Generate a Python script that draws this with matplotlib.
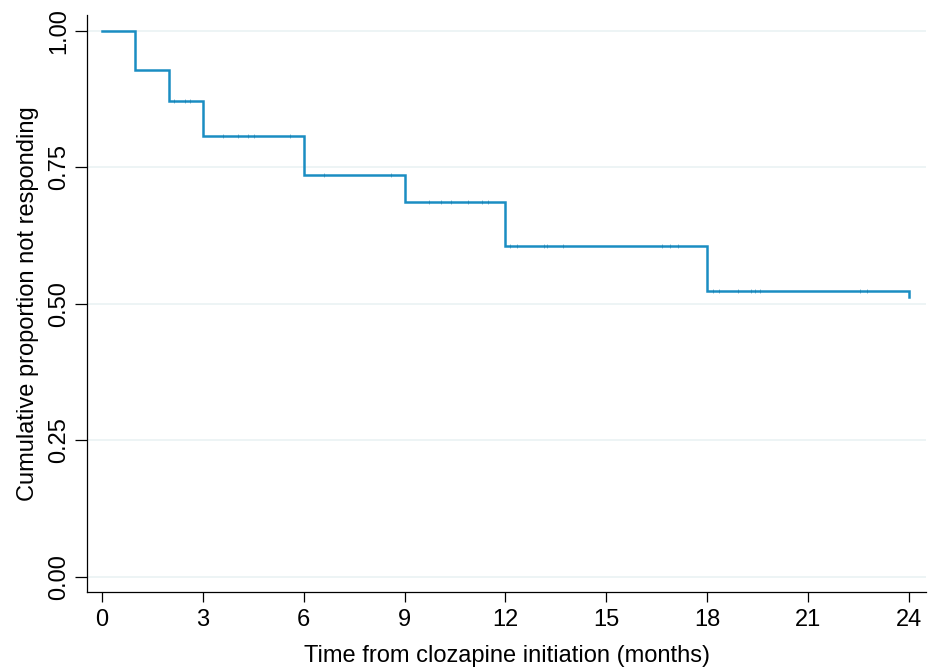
import matplotlib
matplotlib.use("Agg")
import matplotlib.pyplot as plt
import numpy as np

plt.rcParams["font.family"] = ["Liberation Sans", "DejaVu Sans"]

# Kaplan-Meier step data (time in months, survival after the step)
step_times = [0, 1, 2, 3, 6, 9, 12, 18, 24]
step_surv = [1.000, 0.928, 0.871, 0.808, 0.736, 0.686, 0.605, 0.523, 0.512]

# censored observations (time, level)
cens_times = [2.14, 2.47, 2.61,
              3.6, 4.04, 4.34, 4.52, 5.61,
              6.6, 8.6,
              9.74, 10.09, 10.37, 10.9, 11.31, 11.47,
              12.15, 12.35, 13.14, 13.24, 13.70, 16.65, 16.88, 17.12,
              18.16, 18.36, 18.90, 19.30, 19.42, 19.57, 22.54, 22.74]

x_ticks = [0, 3, 6, 9, 12, 15, 18, 21, 24]
y_ticks = [0.00, 0.25, 0.50, 0.75, 1.00]

line_color = "#1a8dc2"
grid_color = "#eaf2f3"

W, H = 930, 668
fig = plt.figure(figsize=(W / 100, H / 100), dpi=100)
ax = fig.add_axes([87 / W, 1 - 592 / H, (926 - 87) / W, (592 - 15) / H])

# build step path
xs = [step_times[0]]
ys = [step_surv[0]]
for t, s in zip(step_times[1:], step_surv[1:]):
    xs += [t, t]
    ys += [ys[-1], s]
ax.plot(xs, ys, color=line_color, lw=1.8, solid_joinstyle="miter", zorder=3)

# censor marks sit on the level in effect at that time
def level_at(t):
    idx = np.searchsorted(step_times, t, side="right") - 1
    return step_surv[idx]

cens_levels = [level_at(t) for t in cens_times]
ax.plot(cens_times, cens_levels, ls="none", marker="|", ms=2.4, mew=0.5,
        color="#1478a8", alpha=0.7, zorder=4)

for y in y_ticks:
    ax.axhline(y, color=grid_color, lw=1.2, zorder=1)

ax.set_xlim(-0.437, 24.5)
ax.set_ylim(-0.0274, 1.0287)
ax.set_xticks(x_ticks)
ax.set_yticks(y_ticks)
ax.set_yticklabels([f"{v:.2f}" for v in y_ticks], rotation=90, va="center")
ax.tick_params(axis="x", length=7, width=0.9, labelsize=17, pad=5, color="black")
ax.tick_params(axis="y", length=9, width=0.9, labelsize=17, pad=3, color="black")

for side in ["top", "right"]:
    ax.spines[side].set_visible(False)
for side in ["left", "bottom"]:
    ax.spines[side].set_linewidth(0.9)

ax.set_xlabel("Time from clozapine initiation (months)", fontsize=17, labelpad=10)
ax.set_ylabel("Cumulative proportion not responding", fontsize=17, labelpad=7)

fig.savefig("out.png", dpi=100)
